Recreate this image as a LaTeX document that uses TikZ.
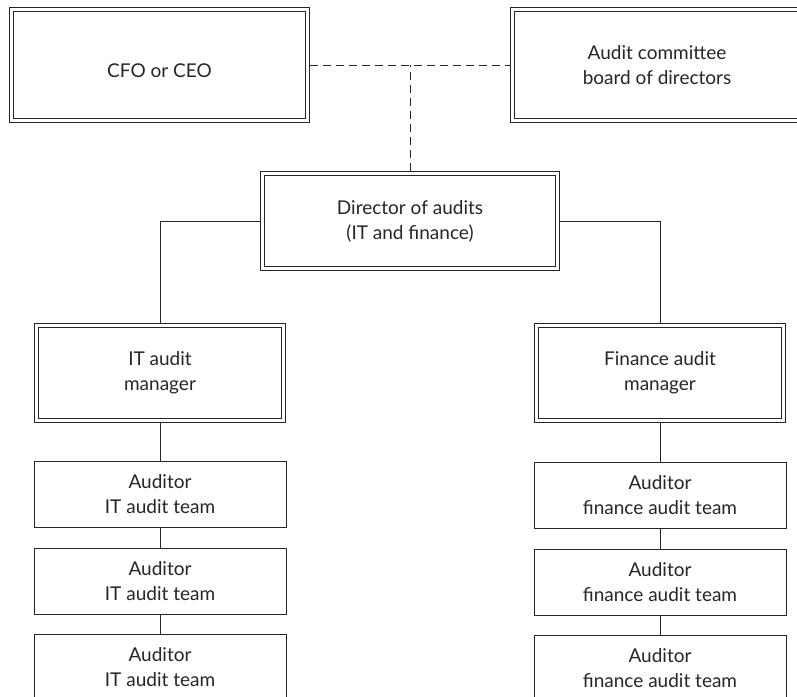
\documentclass[tikz,border=0pt]{standalone}
\usepackage{fontspec}
\setmainfont{Lato}
\definecolor{ink}{HTML}{262626}
\tikzset{
  txt/.style={align=center, font=\fontsize{19}{25}\selectfont, text=ink},
  dbox/.style={txt, draw=ink, line width=0.9pt, double=white, double distance=3.1pt,
    outer sep=2.45pt, inner sep=0pt},
  sbox/.style={txt, draw=ink, line width=1pt,
    minimum width=252pt, minimum height=66pt, inner sep=0pt},
  link/.style={draw=ink, line width=1pt},
  dlink/.style={draw=ink, line width=1pt, dash pattern=on 8pt off 5pt}
}
\begin{document}
\begin{tikzpicture}[x=1pt,y=-1pt]
\useasboundingbox (0,0) rectangle (797,696);
\clip (0,0) rectangle (797,696);
% top level
\node[dbox, minimum width=296pt, minimum height=111pt,
  label={[txt, yshift=-6pt]center:CFO or CEO}] (cfo) at (159.5,65) {};
\node[dbox, minimum width=289pt, minimum height=111pt] (aud) at (657,65) {Audit committee\\board of directors};
% director
\node[dbox, minimum width=295.5pt, minimum height=95pt] (dir) at (410,221) {Director of audits\\(IT and finance)};
% managers
\node[dbox, minimum width=247pt, minimum height=95pt] (itm) at (160,373) {IT audit\\manager};
\node[dbox, minimum width=247pt, minimum height=95pt] (fim) at (660,373) {Finance audit\\manager};
% auditors
\node[sbox] (it1) at (160,494.5) {Auditor\\IT audit team};
\node[sbox] (it2) at (160,581) {Auditor\\IT audit team};
\node[sbox] (it3) at (160,667) {Auditor\\IT audit team};
\node[sbox] (fi1) at (660,495) {Auditor\\finance audit team};
\node[sbox] (fi2) at (660,582) {Auditor\\finance audit team};
\node[sbox] (fi3) at (660,668) {Auditor\\finance audit team};
% connectors
\draw[dlink] (cfo.east) -- (aud.west);
\draw[dlink] (dir.north) -- (dir.north |- cfo.east);
\draw[link] (dir.west) -| (itm.north);
\draw[link] (dir.east) -| (fim.north);
\draw[link] (itm.south) -- (it1.north);
\draw[link] (it1.south) -- (it2.north);
\draw[link] (it2.south) -- (it3.north);
\draw[link] (fim.south) -- (fi1.north);
\draw[link] (fi1.south) -- (fi2.north);
\draw[link] (fi2.south) -- (fi3.north);
\end{tikzpicture}
\end{document}
